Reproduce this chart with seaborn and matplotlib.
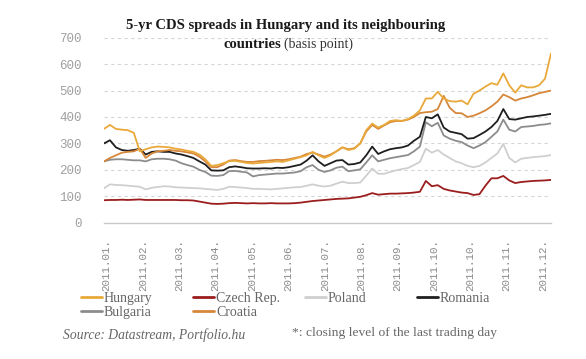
import numpy as np
import pandas as pd
import matplotlib
matplotlib.use("Agg")
import matplotlib.pyplot as plt
import seaborn as sns
from matplotlib.lines import Line2D

# ------------------------------------------------------------------
# Data (basis points)
# ------------------------------------------------------------------
hungary = [355, 370, 355, 352, 350, 340, 270, 278, 285, 288, 287, 285, 280, 277, 272, 268,
           258, 240, 215, 218, 225, 233, 234, 230, 226, 224, 226, 228, 230, 232, 230, 236,
           242, 248, 255, 268, 255, 245, 255, 270, 285, 275, 280, 300, 350, 375, 360, 370,
           385, 388, 385, 392, 405, 425, 470, 470, 495, 470, 460, 458, 462, 448, 488, 500,
           515, 528, 522, 565, 520, 492, 520, 512, 512, 520, 545, 640]
czech = [85, 86, 86, 87, 86, 87, 88, 86, 86, 86, 86, 86, 86, 85, 85, 84,
         80, 76, 72, 71, 72, 74, 75, 74, 73, 74, 73, 73, 74, 73, 73, 73,
         74, 76, 79, 82, 84, 86, 88, 90, 91, 92, 95, 98, 104, 112, 106, 108,
         110, 110, 111, 112, 114, 117, 158, 138, 142, 128, 122, 118, 114, 112, 105, 108,
         140, 168, 168, 177, 160, 150, 154, 156, 158, 159, 160, 162]
poland = [130, 145, 143, 142, 140, 138, 136, 126, 132, 135, 138, 137, 134, 133, 132, 131,
          130, 128, 126, 124, 128, 136, 135, 133, 131, 128, 128, 127, 126, 128, 130, 132,
          134, 135, 140, 145, 140, 137, 140, 148, 155, 150, 150, 152, 178, 205, 185, 185,
          192, 198, 203, 207, 218, 230, 280, 265, 275, 258, 245, 232, 225, 215, 210, 215,
          228, 245, 262, 298, 245, 228, 242, 245, 248, 250, 252, 256]
romania = [300, 312, 285, 275, 272, 275, 280, 258, 268, 270, 268, 268, 262, 258, 252, 245,
           232, 220, 198, 197, 198, 210, 213, 210, 206, 205, 205, 206, 205, 208, 207, 210,
           215, 220, 235, 255, 232, 215, 225, 235, 237, 220, 222, 228, 255, 288, 260, 270,
           278, 282, 285, 292, 310, 325, 400, 395, 410, 360, 345, 340, 335, 318, 320, 332,
           345, 362, 385, 430, 392, 390, 395, 400, 402, 405, 408, 412]
bulgaria = [232, 238, 240, 240, 238, 236, 236, 232, 240, 242, 242, 240, 235, 225, 218, 212,
            200, 192, 178, 177, 180, 195, 196, 193, 190, 175, 180, 182, 184, 186, 186, 188,
            190, 195, 210, 218, 200, 192, 198, 208, 212, 195, 198, 202, 228, 255, 232, 238,
            244, 248, 252, 256, 270, 288, 380, 365, 378, 330, 318, 310, 305, 292, 282, 292,
            305, 325, 345, 390, 352, 345, 362, 364, 366, 370, 372, 376]
croatia = [232, 245, 255, 265, 268, 270, 280, 245, 262, 270, 272, 275, 272, 270, 266, 262,
           250, 232, 210, 210, 220, 235, 237, 233, 230, 230, 233, 234, 236, 238, 237, 240,
           245, 250, 260, 265, 258, 250, 258, 270, 285, 278, 282, 300, 345, 370, 355, 368,
           380, 385, 385, 390, 400, 415, 418, 420, 430, 480, 435, 415, 414, 400, 405, 414,
           425, 440, 458, 485, 475, 462, 470, 475, 482, 490, 495, 500]

month_labels = ["2011.01.", "2011.02.", "2011.03.", "2011.04.", "2011.05.", "2011.06.",
                "2011.07.", "2011.08.", "2011.09.", "2011.10.", "2011.10.", "2011.11.",
                "2011.12."]

series = {"Czech Rep.": czech, "Poland": poland, "Bulgaria": bulgaria,
          "Romania": romania, "Croatia": croatia, "Hungary": hungary}
colors = {"Hungary": "#E9A93A", "Czech Rep.": "#9B1D1D", "Poland": "#CFCFCF",
          "Romania": "#1E1E1E", "Bulgaria": "#8C8C8C", "Croatia": "#D6873A"}

df = pd.concat([pd.DataFrame({"day": np.arange(len(v)), "bp": v, "country": k})
                for k, v in series.items()], ignore_index=True)

# ------------------------------------------------------------------
# Plot
# ------------------------------------------------------------------
sns.set_style("white")
serif = ["Liberation Serif", "DejaVu Serif"]
mono = ["Liberation Mono", "DejaVu Sans Mono"]

fig = plt.figure(figsize=(5.86, 3.59), dpi=100)
ax = fig.add_axes([104 / 586, 1 - 222.7 / 359, 447 / 586, 185 / 359])

sns.lineplot(data=df, x="day", y="bp", hue="country", palette=colors,
             linewidth=1.3, ax=ax, legend=False)

ax.set_xlim(0, len(hungary) - 1)
ax.set_ylim(0, 700)
ax.set_yticks(range(0, 701, 100))
ax.set_yticklabels([str(v) for v in range(0, 701, 100)], family=mono, fontsize=9, color="#A0A0A0")
ticks = 0.45 + 6.1 * np.arange(len(month_labels))
ax.set_xticks(ticks)
ax.set_xticklabels(month_labels, rotation=90, family=mono, fontsize=7.8, color="#8A8A8A")
ax.tick_params(axis="both", length=0)
ax.tick_params(axis="y", pad=16)
ax.tick_params(axis="x", pad=12)
ax.set_xlabel("")
ax.set_ylabel("")

for v in range(100, 701, 100):
    ax.axhline(v, color="#D5D5D5", lw=0.8, ls=(0, (3, 3)), zorder=0)
for s in ["top", "right", "left"]:
    ax.spines[s].set_visible(False)
ax.spines["bottom"].set_color("#C8C8C8")
ax.spines["bottom"].set_linewidth(1.0)

# Title
fig.text(286 / 586, 1 - 25 / 359, "5-yr CDS spreads in Hungary and its neighbouring",
         ha="center", va="center", family=serif, fontweight="bold", fontsize=10.5, color="#1A1A1A")
fig.text(281 / 586, 1 - 44 / 359, "countries", ha="right", va="center",
         family=serif, fontweight="bold", fontsize=10.5, color="#1A1A1A")
fig.text(284 / 586, 1 - 44 / 359, "(basis point)", ha="left", va="center",
         family=serif, fontsize=10, color="#333333")

# Legend: four columns spaced evenly like the original
legend_cols = [["Hungary", "Bulgaria"], ["Czech Rep.", "Croatia"], ["Poland"], ["Romania"]]
col_x = [81, 193, 305, 417]
for names, x0 in zip(legend_cols, col_x):
    handles = [Line2D([], [], color=colors[n], lw=2) for n in names]
    leg = fig.legend(handles, names, loc="upper left", bbox_to_anchor=(x0 / 586, 1 - 292 / 359),
                     frameon=False, handlelength=1.5, handletextpad=0.15, labelspacing=0.05,
                     borderpad=0, borderaxespad=0, prop={"family": serif, "size": 10})
    for t in leg.get_texts():
        t.set_color("#666666")

fig.text(63 / 586, 1 - 335 / 359, "Source: Datastream, Portfolio.hu", ha="left", va="center",
         family=serif, style="italic", fontsize=9.8, color="#666666")
fig.text(292 / 586, 1 - 333 / 359, "*: closing level of the last trading day", ha="left",
         va="center", family=serif, fontsize=9.7, color="#666666")

fig.savefig("out.png", dpi=100, facecolor="white")
